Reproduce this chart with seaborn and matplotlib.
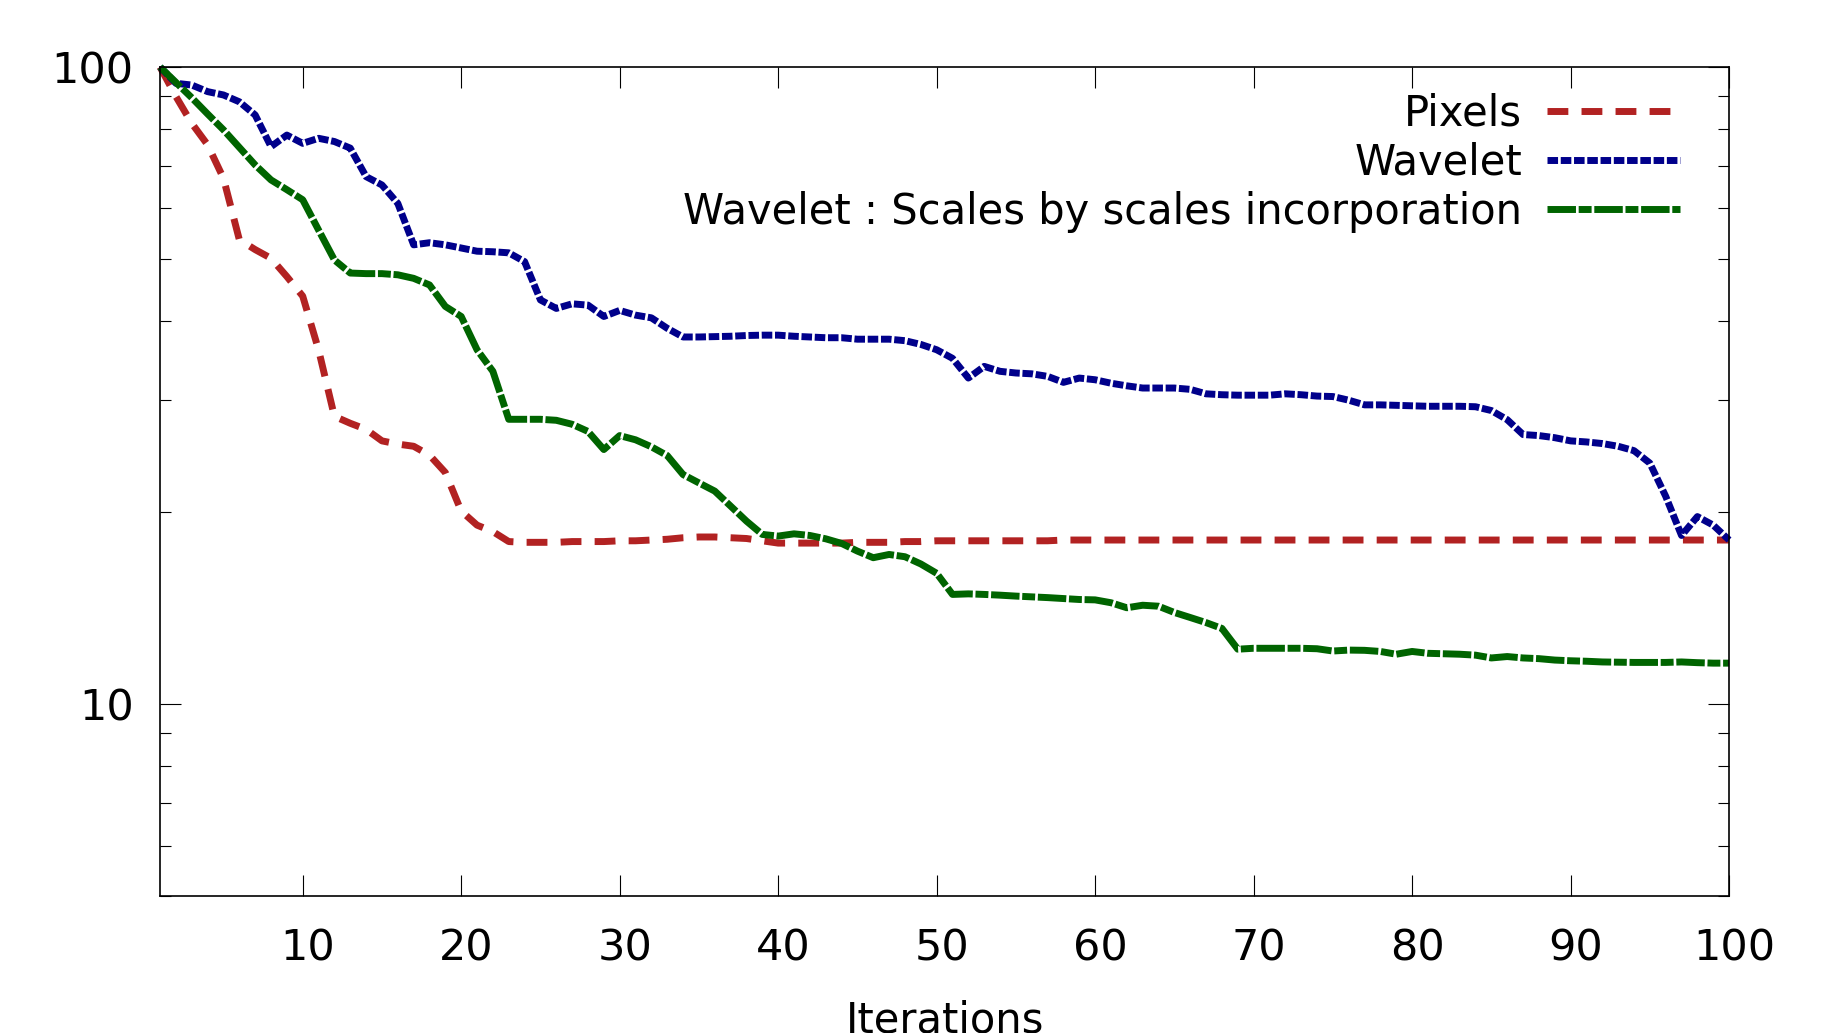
import matplotlib
matplotlib.use("Agg")
import matplotlib.pyplot as plt
import matplotlib.transforms as mtransforms
import numpy as np
import pandas as pd
import seaborn as sns
from matplotlib.lines import Line2D
from matplotlib.ticker import FixedLocator, FuncFormatter, LogLocator, NullFormatter, NullLocator

iterations = list(range(1, 101))

pixels = [
	100, 89.9, 81.6, 75.5, 66.9, 53.6, 51.7, 50.1, 46.9, 43.7,
	36.0, 28.3, 27.6, 27.0, 25.9, 25.6, 25.4, 24.6, 23.1, 20.1,
	19.1, 18.66, 18.0, 17.95, 17.95, 17.95, 18.0, 18.0, 18.0, 18.05,
	18.05, 18.1, 18.15, 18.25, 18.3, 18.3, 18.25, 18.2, 18.05, 17.9,
	17.9, 17.9, 17.9, 17.9, 17.95, 17.95, 17.95, 18.0, 18.0, 18.05,
	18.05, 18.05, 18.05, 18.05, 18.05, 18.05, 18.05, 18.1, 18.1, 18.1,
	18.1, 18.1, 18.1, 18.1, 18.1, 18.1, 18.1, 18.1, 18.1, 18.1,
	18.1, 18.1, 18.1, 18.1, 18.1, 18.1, 18.1, 18.1, 18.1, 18.1,
	18.1, 18.1, 18.1, 18.1, 18.1, 18.1, 18.1, 18.1, 18.1, 18.1,
	18.1, 18.1, 18.1, 18.1, 18.1, 18.1, 18.1, 18.1, 18.1, 18.1,
]

wavelet = [
	100, 94.3, 93.7, 91.5, 90.4, 88.2, 84.1, 75.0, 78.2, 75.9,
	77.3, 76.4, 74.6, 67.3, 65.3, 61.1, 52.6, 53.0, 52.6, 52.0,
	51.4, 51.3, 51.1, 49.5, 43.1, 41.8, 42.5, 42.3, 40.6, 41.5,
	40.8, 40.4, 38.9, 37.7, 37.7, 37.75, 37.8, 37.9, 37.95, 37.95,
	37.8, 37.7, 37.6, 37.6, 37.4, 37.4, 37.4, 37.2, 36.7, 36.0,
	34.9, 32.5, 33.9, 33.3, 33.1, 33.0, 32.7, 32.0, 32.5, 32.3,
	31.9, 31.6, 31.35, 31.35, 31.35, 31.2, 30.7, 30.6, 30.55, 30.55,
	30.55, 30.7, 30.6, 30.45, 30.4, 30.0, 29.5, 29.5, 29.45, 29.4,
	29.35, 29.35, 29.35, 29.3, 28.9, 27.96, 26.5, 26.4, 26.2, 25.9,
	25.8, 25.65, 25.4, 25.0, 23.9, 21.2, 18.4, 19.7, 19.1, 18.1,
]

scales = [
	100, 94.6, 89.5, 84.4, 79.7, 74.8, 70.2, 66.5, 64.2, 61.9,
	55.5, 49.8, 47.5, 47.4, 47.4, 47.2, 46.6, 45.5, 42.1, 40.6,
	36.0, 33.3, 28.0, 28.0, 28.0, 27.9, 27.5, 26.8, 25.1, 26.4,
	26.0, 25.35, 24.56, 22.93, 22.25, 21.6, 20.46, 19.38, 18.47, 18.36,
	18.51, 18.4, 18.18, 17.88, 17.39, 16.98, 17.18, 17.04, 16.6, 16.05,
	14.87, 14.9, 14.87, 14.83, 14.78, 14.74, 14.7, 14.65, 14.6, 14.58,
	14.43, 14.17, 14.3, 14.25, 13.93, 13.68, 13.43, 13.15, 12.2, 12.24,
	12.24, 12.24, 12.24, 12.22, 12.12, 12.16, 12.15, 12.1, 11.98, 12.1,
	12.02, 12.0, 11.98, 11.94, 11.82, 11.88, 11.82, 11.79, 11.73, 11.7,
	11.68, 11.65, 11.64, 11.63, 11.63, 11.63, 11.65, 11.62, 11.6, 11.6,
]

series_names = ["Pixels", "Wavelet", "Wavelet : Scales by scales incorporation"]
series_colors = ["#b22222", "#00008b", "#006400"]
series_dashes = [(3.0, 1.9), (1.52, 0.39), (4.1, 0.39, 1.86, 0.39)]

y_ticks = [10, 100]
x_ticks = list(range(10, 101, 10))


def main() -> None:
	sns.set_theme(style="ticks")
	plt.rcParams["font.family"] = ["DejaVu Sans"]
	plt.rcParams["axes.linewidth"] = 1.2
	plt.rcParams["text.color"] = "black"
	plt.rcParams["axes.labelcolor"] = "black"
	plt.rcParams["xtick.color"] = "black"
	plt.rcParams["ytick.color"] = "black"

	df = pd.concat(
		[
			pd.DataFrame({"iteration": iterations, "value": vals, "series": name})
			for name, vals in zip(series_names, [pixels, wavelet, scales])
		],
		ignore_index=True,
	)

	fig = plt.figure(figsize=(18.42, 10.33), dpi=100)
	ax = fig.add_axes([0.0869, 0.1326, 0.9387 - 0.0869, 0.9351 - 0.1326])

	sns.lineplot(
		data=df,
		x="iteration",
		y="value",
		hue="series",
		style="series",
		hue_order=series_names,
		style_order=series_names,
		palette=dict(zip(series_names, series_colors)),
		dashes=dict(zip(series_names, series_dashes)),
		linewidth=5,
		errorbar=None,
		legend=False,
		ax=ax,
	)
	for line in ax.get_lines():
		line.set_clip_on(False)

	ax.set_yscale("log")
	ax.set_xlim(1, 100)
	ax.set_ylim(5, 100)
	ax.yaxis.set_major_locator(FixedLocator(y_ticks))
	ax.yaxis.set_major_formatter(FuncFormatter(lambda v, p: f"{v:g}"))
	ax.yaxis.set_minor_locator(LogLocator(base=10, subs=np.arange(2, 10)))
	ax.yaxis.set_minor_formatter(NullFormatter())
	ax.xaxis.set_major_locator(FixedLocator(x_ticks))
	ax.xaxis.set_minor_locator(NullLocator())

	ax.tick_params(which="both", direction="in", top=True, right=True,
		color="black", labelcolor="black", width=0.8)
	ax.tick_params(which="major", length=15, labelsize=31)
	ax.tick_params(which="minor", length=8)
	ax.tick_params(axis="x", pad=23)
	ax.tick_params(axis="y", pad=19)
	for spine in ax.spines.values():
		spine.set_color("black")

	# gnuplot puts the x labels a touch right of the tick
	shift = mtransforms.ScaledTranslation(0.05, 0, fig.dpi_scale_trans)
	for label in ax.get_xticklabels():
		label.set_transform(label.get_transform() + shift)

	ax.set_xlabel("Iterations", fontsize=30, labelpad=21, color="black")
	ax.set_ylabel("")

	handles = [
		Line2D([0], [0], color=c, linewidth=5, dashes=d)
		for c, d in zip(series_colors, series_dashes)
	]
	leg = ax.legend(
		handles,
		series_names,
		loc="upper right",
		bbox_to_anchor=(0.969, 0.969),
		frameon=False,
		markerfirst=False,
		fontsize=30,
		handlelength=3.2,
		handletextpad=0.6,
		labelspacing=0.17,
		borderpad=0,
		borderaxespad=0,
	)
	for text in leg.get_texts():
		text.set_color("black")

	fig.savefig("out.png", dpi=100)
	plt.close(fig)


if __name__ == "__main__":
	main()
